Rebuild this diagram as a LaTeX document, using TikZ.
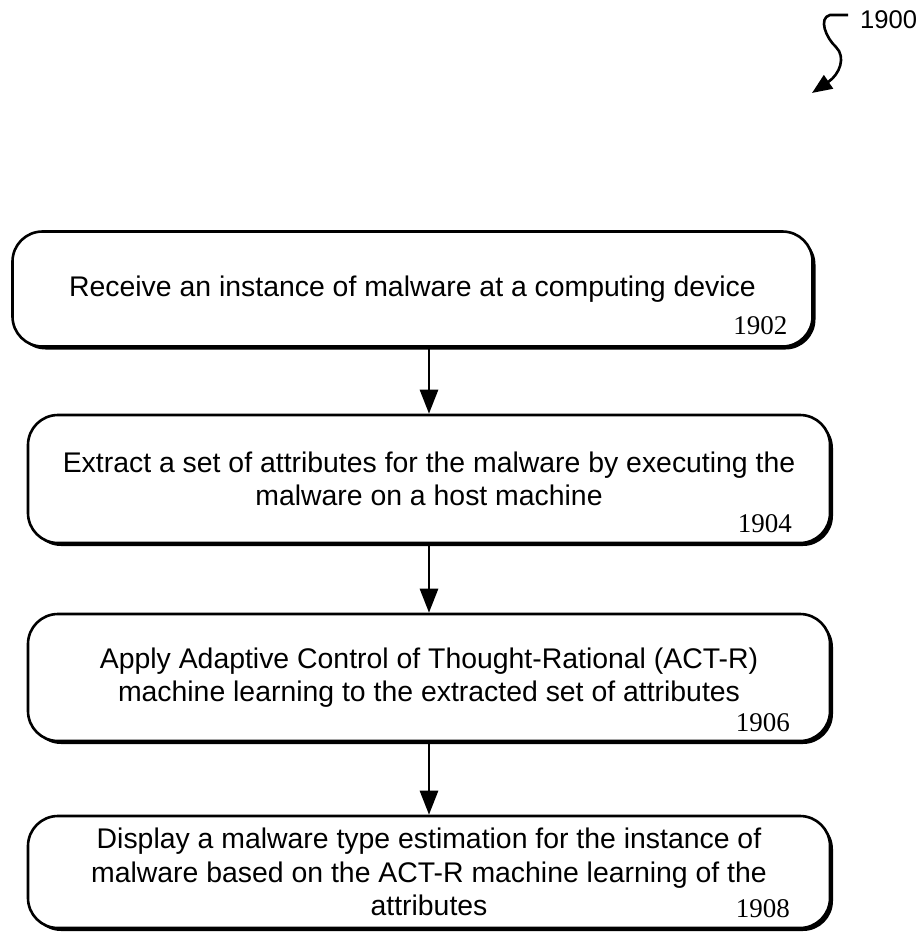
\documentclass[tikz,border=0pt]{standalone}
\usepackage{fontspec}
\setmainfont{Liberation Sans}
\newfontfamily\numfont{Liberation Serif}
\usetikzlibrary{arrows.meta,positioning,shadows}

\begin{document}
\begin{tikzpicture}[
    x=0.5pt, y=-0.5pt,
    font=\fontsize{14.2}{16.8}\selectfont,
    stepbox/.style={draw, line width=1.3pt, rounded corners=15pt, align=center, fill=white,
        minimum width=401pt, inner sep=0pt,
        drop shadow={shadow xshift=1.5pt, shadow yshift=-1.5pt, fill=black, opacity=1}},
    refnum/.style={font=\numfont\fontsize{13.5}{13.5}\selectfont, anchor=east, inner sep=0pt},
    arr/.style={-{Triangle[length=12pt, width=9pt]}, line width=1.4pt},
]
\useasboundingbox (0,0) rectangle (923,933);

% Figure reference
\node[font=\fontsize{12.8}{12.8}\selectfont, anchor=west] (fig) at (853,20) {1900};
\coordinate (tip) at (812,93);
\draw[line width=1.3pt, -{Triangle[length=10pt, width=8pt]}]
    ([xshift=-2.5pt, yshift=2.5pt]fig.west) -- (830,15)
    .. controls (818,18) and (826,38) .. (836,47)
    .. controls (846,57) and (840,74) .. (tip);

% Steps
\node[stepbox, minimum width=400pt, minimum height=57.5pt] (s1) at (412.5,289)
    {Receive an instance of malware at a computing device};
\node[stepbox, minimum height=64pt] (s2) at (429,479)
    {Extract a set of attributes for the malware by executing the\\ malware on a host machine};
\node[stepbox, minimum height=63.5pt] (s3) at (429,677.5)
    {Apply Adaptive Control of Thought-Rational (ACT-R)\\ machine learning to the extracted set of attributes};
\node[stepbox, minimum height=56pt] (s4) at (429,872)
    {Display a malware type estimation for the instance of\\ malware based on the ACT-R machine learning of the\\ attributes};

% Reference numbers
\node[refnum] (n1) at ([xshift=-13pt, yshift=11pt]s1.south east) {1902};
\node[refnum] (n2) at ([xshift=-19.5pt, yshift=10.5pt]s2.south east) {1904};
\node[refnum] (n3) at ([xshift=-20.5pt, yshift=10pt]s3.south east) {1906};
\node[refnum] (n4) at ([xshift=-20.5pt, yshift=10.5pt]s4.south east) {1908};

% Arrows
\draw[arr] (s1.south -| s2.north) -- (s2.north);
\draw[arr] (s2) -- (s3);
\draw[arr] (s3) -- (s4);
\end{tikzpicture}
\end{document}
